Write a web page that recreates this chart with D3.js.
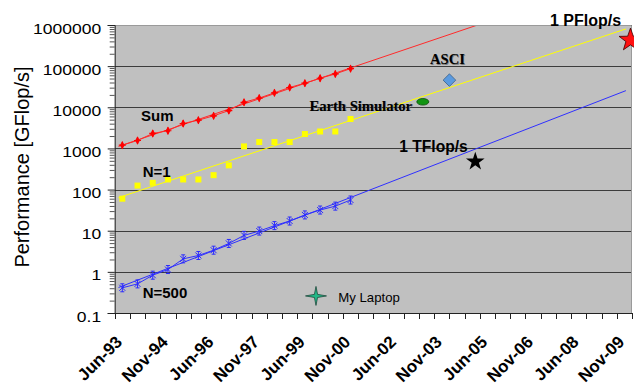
<!DOCTYPE html>
<html>
<head>
<meta charset="utf-8">
<script src="https://cdn.jsdelivr.net/npm/d3@7"></script>
<style>
  html, body { margin: 0; padding: 0; background: #fff; }
  svg { display: block; }
  text { font-family: "Liberation Sans", Arial, Helvetica, sans-serif; fill: #000; }
</style>
</head>
<body>
<svg id="chart" width="634" height="391"></svg>
<script>
// TOP500 list releases, twice a year
const periods = [
  "Jun-93","Nov-93","Jun-94","Nov-94","Jun-95","Nov-95","Jun-96","Nov-96",
  "Jun-97","Nov-97","Jun-98","Nov-98","Jun-99","Nov-99","Jun-00","Nov-00",
  "Jun-01","Nov-01","Jun-02","Nov-02","Jun-03","Nov-03","Jun-04","Nov-04",
  "Jun-05","Nov-05","Jun-06","Nov-06","Jun-07","Nov-07","Jun-08","Nov-08",
  "Jun-09","Nov-09"
];
const xTickLabels = ["Jun-93","Nov-94","Jun-96","Nov-97","Jun-99","Nov-00",
                     "Jun-02","Nov-03","Jun-05","Nov-06","Jun-08","Nov-09"];

// Performance in GFlop/s, Jun-93 .. Nov-00
const sumValues  = [1200, 1560, 2310, 2690, 4030, 4870, 6200, 8320,
                    13200, 16750, 22500, 30300, 38500, 50800, 64600, 87000];
const n1Values   = [60, 125, 146, 176, 176, 176, 224, 388,
                    1120, 1430, 1430, 1430, 2240, 2580, 2580, 5200];
const n500Values = [0.41, 0.51, 0.83, 1.14, 2.07, 2.5, 3.36, 4.9,
                    7.7, 9.8, 13.3, 17.2, 24.2, 31.8, 39.6, 55.7];

const yTicks      = [0.1, 1, 10, 100, 1000, 10000, 100000, 1000000];
const yTickLabels = ["0.1","1","10","100","1000","10000","100000","1000000"];

// Single systems shown on the chart: period index (fractional) and GFlop/s
const systemNames  = ["Earth Simulator", "ASCI", "My Laptop"];
const systemIndex  = [19.75, 21.5, 12.73];
const systemValues = [13600, 45700, 0.26];

// Milestone stars
const milestoneNames  = ["1 TFlop/s", "1 PFlop/s"];
const milestoneIndex  = [23.2, 33.4];
const milestoneValues = [480, 430000];

const svg = d3.select("#chart");
const plot = { left: 114.7, right: 632, top: 25, bottom: 313 };

const x = d3.scaleBand().domain(periods).range([plot.left, plot.right])
  .paddingInner(0).paddingOuter(0);
const bw = x.bandwidth();
const xi = i => x(periods[0]) + bw * (i + 0.5);   // centre of (fractional) period i
const y = d3.scaleLog().domain([0.1, 1e6]).range([plot.bottom, plot.top]);

// clip for lines running past the plot frame
svg.append("defs").append("clipPath").attr("id", "plotClip")
  .append("rect").attr("x", plot.left).attr("y", plot.top)
  .attr("width", plot.right - plot.left).attr("height", plot.bottom - plot.top);

// plot background
svg.append("rect").attr("x", plot.left).attr("y", plot.top)
  .attr("width", plot.right - plot.left).attr("height", plot.bottom - plot.top)
  .attr("fill", "#c0c0c0");

// decade gridlines
svg.append("g").selectAll("line").data(yTicks.slice(1)).join("line")
  .attr("x1", plot.left).attr("x2", plot.right)
  .attr("y1", d => Math.round(y(d)) + 0.5).attr("y2", d => Math.round(y(d)) + 0.5)
  .attr("stroke", "#3c3c3c").attr("stroke-width", 1.1);

// exponential trend: least squares on log10(value) against period index
function fitLog(vals) {
  const n = vals.length;
  const xs = d3.range(n), ls = vals.map(Math.log10);
  const mx = d3.mean(xs), ml = d3.mean(ls);
  const sxy = d3.sum(xs, (v, k) => (v - mx) * (ls[k] - ml));
  const sxx = d3.sum(xs, v => (v - mx) * (v - mx));
  const b = sxy / sxx;
  return { a: ml - b * mx, b };
}
const trendSpan = [-0.25, 33.1];
const series = [
  { vals: sumValues,  color: "#ff2a2a", joined: true },
  { vals: n1Values,   color: "#ffff00", joined: false },
  { vals: n500Values, color: "#2f2fff", joined: true }
];

const lineG = svg.append("g").attr("clip-path", "url(#plotClip)");
series.forEach(s => {
  const f = fitLog(s.vals);
  const pts = trendSpan.map(i => [xi(i), y(Math.pow(10, f.a + f.b * i))]);
  lineG.append("path").attr("d", d3.line()(pts))
    .attr("fill", "none").attr("stroke", s.color).attr("stroke-width", 1);
  if (s.joined) {
    lineG.append("path")
      .attr("d", d3.line().x((d, i) => xi(i)).y(d => y(d))(s.vals))
      .attr("fill", "none").attr("stroke", s.color).attr("stroke-width", 1);
  }
});

// markers
const mk = svg.append("g");
mk.selectAll(".sum").data(sumValues).join("path")
  .attr("transform", (d, i) => `translate(${xi(i)},${y(d)})`)
  .attr("d", d3.symbol(d3.symbolDiamond, 20)())
  .attr("fill", "#ff0000");
mk.selectAll(".sumx").data(sumValues).join("path")
  .attr("transform", (d, i) => `translate(${xi(i)},${y(d)})`)
  .attr("d", "M-3.5,0H3.5M0,-3.5V3.5")
  .attr("stroke", "#ff0000").attr("stroke-width", 1.2);
mk.selectAll(".n1").data(n1Values).join("rect")
  .attr("x", (d, i) => xi(i) - 3).attr("y", d => y(d) - 3)
  .attr("width", 6).attr("height", 6).attr("fill", "#ffff00");
mk.selectAll(".n500").data(n500Values).join("path")
  .attr("transform", (d, i) => `translate(${xi(i)},${y(d)})`)
  .attr("d", "M-3,-3L3,3M-3,3L3,-3M0,-4V4M-2,-4H2M-2,4H2")
  .attr("fill", "none").attr("stroke", "#2a2aff").attr("stroke-width", 1);

// plot frame
svg.append("path")
  .attr("d", `M${plot.left},${plot.top + 0.5}H${plot.right - 0.5}V${plot.bottom}`)
  .attr("fill", "none").attr("stroke", "#9a9a9a").attr("stroke-width", 1);

// y axis: decades with labels, minor ticks 2..9
const yAxis = svg.append("g").attr("transform", `translate(${plot.left},0)`)
  .call(d3.axisLeft(y).tickValues(yTicks).tickFormat((d, i) => yTickLabels[i])
    .tickSize(7).tickPadding(0));
yAxis.select(".domain").attr("stroke", "#222");
yAxis.selectAll(".tick line").attr("stroke", "#222");
yAxis.selectAll(".tick text")
  .attr("x", null).attr("dy", null)
  .attr("transform", "translate(-13.5,8) scale(1.13,1)")
  .attr("text-anchor", "end")
  .style("font-size", "15.5px")
  .style("font-family", "'Liberation Sans', Arial, sans-serif")
  .attr("fill", "#000");

const minorVals = [];
yTicks.slice(0, -1).forEach(d => { for (let m = 2; m <= 9; m++) minorVals.push(d * m); });
const yMinor = svg.append("g").attr("transform", `translate(${plot.left},0)`)
  .call(d3.axisLeft(y).tickValues(minorVals).tickFormat("").tickSize(5));
yMinor.select(".domain").remove();
yMinor.selectAll(".tick line").attr("stroke", "#555");

// x axis: ticks on period boundaries, every third period labelled
const xAxisG = svg.append("g");
xAxisG.append("line").attr("x1", plot.left).attr("x2", plot.right)
  .attr("y1", plot.bottom + 0.5).attr("y2", plot.bottom + 0.5)
  .attr("stroke", "#222");
xAxisG.selectAll(".xt").data(periods.concat(["end"])).join("line")
  .attr("x1", (d, i) => Math.round(plot.left + i * bw) + 0.5)
  .attr("x2", (d, i) => Math.round(plot.left + i * bw) + 0.5)
  .attr("y1", plot.bottom).attr("y2", plot.bottom + 6)
  .attr("stroke", "#222");
xAxisG.selectAll(".xl").data(xTickLabels).join("text")
  .attr("transform", d => `translate(${x(d) + bw / 2 + 1},${plot.bottom + 30}) rotate(-45)`)
  .attr("text-anchor", "end")
  .style("font-size", "17px")
  .style("font-weight", "bold")
  .text(d => d);

// y axis title
svg.append("text")
  .attr("transform", `translate(29,167) rotate(-90)`)
  .attr("text-anchor", "middle")
  .style("font-size", "20px")
  .text("Performance [GFlop/s]");

// series names
const bold = (t, px, py, size) => svg.append("text").attr("x", px).attr("y", py)
  .style("font-size", size + "px").style("font-weight", "bold").text(t);
bold("Sum", 141, 120.7, 15);
bold("N=1", 142.7, 176.5, 15);
bold("N=500", 142.7, 298.3, 15);

// star path helper
function starPath(points, rOuterX, rOuterY, rInner) {
  const pts = [];
  for (let k = 0; k < points * 2; k++) {
    const ang = -Math.PI / 2 + k * Math.PI / points;
    const ox = k % 2 === 0 ? rOuterX : rInner;
    const oy = k % 2 === 0 ? rOuterY : rInner;
    pts.push([Math.cos(ang) * ox, Math.sin(ang) * oy]);
  }
  return "M" + pts.map(p => p.join(",")).join("L") + "Z";
}

// single systems
const sysG = svg.append("g");
// Earth Simulator
sysG.append("ellipse")
  .attr("cx", xi(systemIndex[0])).attr("cy", y(systemValues[0]))
  .attr("rx", 6).attr("ry", 3.3)
  .attr("fill", "#119411").attr("stroke", "#0b4d0b").attr("stroke-width", 0.8);
// ASCI
sysG.append("path")
  .attr("transform", `translate(${xi(systemIndex[1])},${y(systemValues[1])})`)
  .attr("d", "M0,-6.3L6.3,0L0,6.3L-6.3,0Z")
  .attr("fill", "#5a9ae0").attr("stroke", "#3a5f86").attr("stroke-width", 0.8);
// My Laptop
sysG.append("path")
  .attr("transform", `translate(${xi(systemIndex[2])},${y(systemValues[2])})`)
  .attr("d", starPath(4, 10.5, 9.5, 2.2))
  .attr("fill", "#22b887").attr("stroke", "#1e4a3c").attr("stroke-width", 0.8);

const serif = (t, px, py) => {
  svg.append("text").attr("x", px + 0.8).attr("y", py + 0.8)
    .style("font-family", "'Liberation Serif', 'Times New Roman', serif")
    .style("font-size", "14.6px").style("font-weight", "bold")
    .attr("fill", "#7a7a7a").style("fill", "#7a7a7a").text(t);
  svg.append("text").attr("x", px).attr("y", py)
    .style("font-family", "'Liberation Serif', 'Times New Roman', serif")
    .style("font-size", "14.6px").style("font-weight", "bold").text(t);
};
serif(systemNames[0], 309.5, 110.5);
serif(systemNames[1], 430, 64);
svg.append("text").attr("x", 338.3).attr("y", 301.5)
  .style("font-size", "13.2px").text(systemNames[2]);

// milestones
svg.append("path")
  .attr("transform", `translate(${xi(milestoneIndex[0])},${y(milestoneValues[0])})`)
  .attr("d", starPath(5, 9.8, 9.8, 3.8))
  .attr("fill", "#000");
svg.append("path")
  .attr("transform", `translate(${xi(milestoneIndex[1])},${y(milestoneValues[1])})`)
  .attr("d", starPath(5, 12, 12, 4.8))
  .attr("fill", "#ff1010").attr("stroke", "#3a0000").attr("stroke-width", 0.8);
bold(milestoneNames[0], 399.3, 151.5, 15.6);
bold(milestoneNames[1], 550, 25.6, 16);
</script>
</body>
</html>
